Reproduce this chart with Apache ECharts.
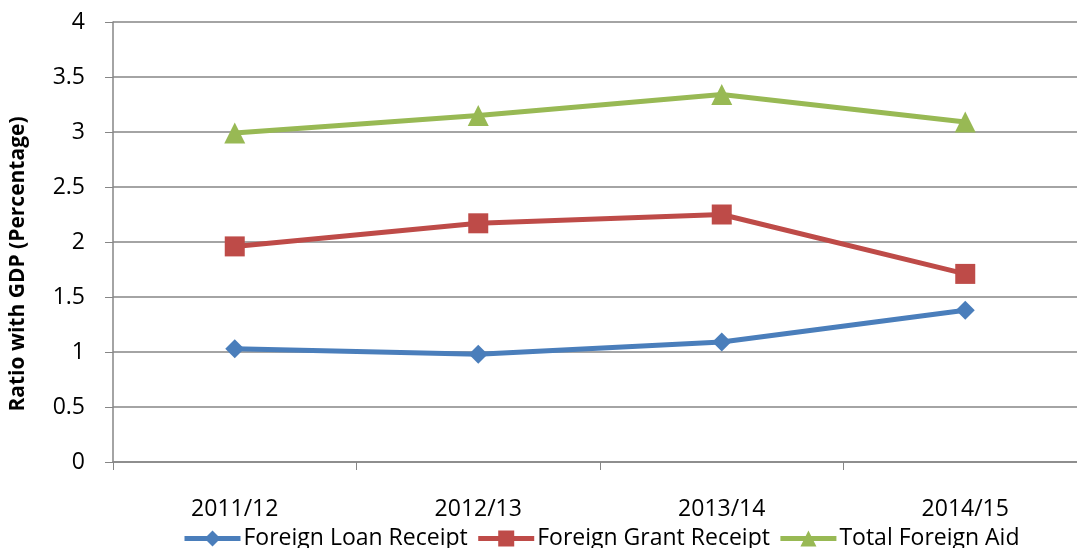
<!DOCTYPE html>
<html>
<head>
<meta charset="utf-8">
<script src="https://cdn.jsdelivr.net/npm/echarts@6/dist/echarts.min.js"></script>
<style>
  html, body { margin: 0; padding: 0; background: #fff; overflow: hidden; }
  #chart { width: 1090px; height: 548px; }
</style>
</head>
<body>
<div id="chart"></div>
<script>
const years = ['2011/12', '2012/13', '2013/14', '2014/15'];
const loanReceipt = [1.03, 0.98, 1.09, 1.38];
const grantReceipt = [1.96, 2.17, 2.25, 1.71];
const totalAid = [2.99, 3.15, 3.34, 3.09];

const font = '"Open Sans", "DejaVu Sans", sans-serif';
const axisGray = '#868686';

function lineSeries(name, data, color, symbol, size) {
  return {
    name,
    type: 'line',
    data,
    symbol,
    symbolSize: size,
    showAllSymbol: true,
    lineStyle: { color, width: 5 },
    itemStyle: { color },
    emphasis: { disabled: true }
  };
}

// the plot runs a little past the right edge of the picture, so the
// container is wider than the window and the overflow is cut off
const chart = echarts.init(document.getElementById('chart'));
chart.setOption({
  animation: false,
  textStyle: { fontFamily: font },
  grid: { left: 112, top: 22, width: 975, bottom: 86, containLabel: false },
  legend: {
    top: 522,
    left: 177,
    itemWidth: 56,
    itemHeight: 20,
    itemGap: 8,
    lineStyle: { width: 5 },
    textStyle: { fontSize: 23, color: '#000', fontFamily: font, padding: [0, 0, 0, -2] },
    data: ['Foreign Loan Receipt', 'Foreign Grant Receipt', 'Total Foreign Aid']
  },
  xAxis: {
    type: 'category',
    data: years,
    boundaryGap: true,
    axisLine: { lineStyle: { color: axisGray, width: 1.5 } },
    axisTick: { show: true, length: 8, lineStyle: { color: axisGray } },
    axisLabel: { color: '#000', fontSize: 23, margin: 36 },
    splitLine: { show: false }
  },
  yAxis: {
    type: 'value',
    min: 0,
    max: 4,
    interval: 0.5,
    name: 'Ratio with GDP (Percentage)',
    nameLocation: 'middle',
    nameGap: 84,
    nameRotate: 90,
    nameTextStyle: { fontSize: 21, fontWeight: 'bold', color: '#000', padding: [0, 44, 0, 0] },
    axisLine: { show: true, lineStyle: { color: axisGray, width: 1.5 } },
    axisTick: { show: true, length: 8, lineStyle: { color: axisGray } },
    axisLabel: { color: '#000', fontSize: 23, margin: 28 },
    splitLine: { lineStyle: { color: axisGray, width: 1.5 } }
  },
  series: [
    lineSeries('Foreign Loan Receipt', loanReceipt, '#4a7ebb', 'diamond', 19),
    lineSeries('Foreign Grant Receipt', grantReceipt, '#be4b48', 'rect', 20),
    lineSeries('Total Foreign Aid', totalAid, '#98b954', 'triangle', 21)
  ]
});
window.addEventListener('resize', () => chart.resize());
</script>
</body>
</html>
